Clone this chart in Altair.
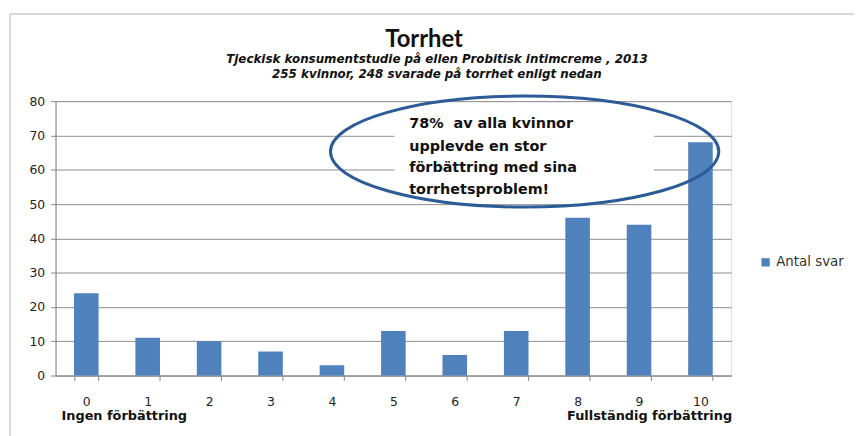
import altair as alt
import pandas as pd

categories = ["0", "1", "2", "3", "4", "5", "6", "7", "8", "9", "10"]
values = [24, 11, 10, 7, 3, 13, 6, 13, 46, 44, 68]
series_name = "Antal svar"

title_text = "Torrhet"
subtitle_lines = [
    "Tjeckisk konsumentstudie på ellen Probitisk intimcreme , 2013",
    "255 kvinnor, 248 svarade på torrhet enligt nedan",
]

note_lines = [
    "78%\u00a0 av alla kvinnor",
    "upplevde en stor",
    "förbättring med sina",
    "torrhetsproblem!",
]
note_y = [73.4, 66.6, 60.4, 54.0]

end_labels = ["Ingen förbättring", "Fullständig förbättring"]
end_cats = ["0", "10"]

FONT = "DejaVu Sans"
TFONT = "Lato"
BLUE = "#4f81bd"

bars_df = pd.DataFrame({"cat": categories, "val": values, "series": series_name})
note_df = pd.DataFrame({"cat": ["5"] * len(note_lines), "val": note_y, "txt": note_lines})
ell_df = pd.DataFrame({"cat": ["7"], "val": [65.3]})
end_df = pd.DataFrame({"cat": end_cats, "val": [-11.8, -11.8], "txt": end_labels})
one = pd.DataFrame({"k": [0]})

xscale = alt.Scale(domain=categories, paddingInner=0.6, paddingOuter=0.3)
yscale = alt.Scale(domain=[0, 80])

xaxis = alt.Axis(
    title=None, labelAngle=0, tickBand="extent", tickSize=5,
    labelPadding=15, labelFontSize=12.5, labelFont=FONT, labelColor="#222",
    domainColor="#868686", tickColor="#868686", grid=False,
)
yaxis = alt.Axis(
    title=None, values=[0, 10, 20, 30, 40, 50, 60, 70, 80],
    tickSize=5, labelPadding=6, labelOverlap=False,
    labelFontSize=12.5, labelFont=FONT, labelColor="#222",
    domainColor="#868686", tickColor="#868686",
    grid=True, gridColor="#8c8c8c", gridWidth=1,
)


def xe():
    return alt.X("cat:N", scale=xscale, sort=categories, axis=xaxis)


def ye():
    return alt.Y("val:Q", scale=yscale, axis=yaxis)


bars = alt.Chart(bars_df).mark_bar(color=BLUE).encode(
    x=xe(),
    y=ye(),
    color=alt.Color(
        "series:N",
        scale=alt.Scale(range=[BLUE]),
        legend=alt.Legend(
            title=None, orient="none", legendX=710, legendY=156,
            symbolType="square", symbolSize=70, symbolStrokeWidth=0,
            labelFont=FONT, labelFontSize=13.5, labelColor="#333",
        ),
    ),
)

white_box = alt.Chart(one).mark_rect(color="white").encode(
    x=alt.value(342), x2=alt.value(604), y=alt.value(6), y2=alt.value(96)
)

b = 56 / 196
k = 0.5523
ell_path = (
    f"M -1 0 C -1 {-k*b:.4f} {-k:.4f} {-b:.4f} 0 {-b:.4f} "
    f"C {k:.4f} {-b:.4f} 1 {-k*b:.4f} 1 0 "
    f"C 1 {k*b:.4f} {k:.4f} {b:.4f} 0 {b:.4f} "
    f"C {-k:.4f} {b:.4f} -1 {k*b:.4f} -1 0 Z"
)
ellipse = alt.Chart(ell_df).mark_point(
    shape=ell_path, size=(2 * 196) ** 2, filled=False,
    stroke="#2b5c98", strokeWidth=3, opacity=1, xOffset=8.5,
).encode(x=xe(), y=ye())

note = alt.Chart(note_df).mark_text(
    align="left", baseline="middle", font=FONT, fontSize=14.5,
    fontWeight="bold", color="#111", xOffset=16,
).encode(x=xe(), y=ye(), text="txt:N")

end_left = alt.Chart(end_df.head(1)).mark_text(
    align="left", baseline="middle", font=FONT, fontSize=13,
    fontWeight="bold", color="#111", xOffset=-25,
).encode(x=xe(), y=ye(), text="txt:N")
end_right = alt.Chart(end_df.tail(1)).mark_text(
    align="right", baseline="middle", font=FONT, fontSize=13,
    fontWeight="bold", color="#111", xOffset=32,
).encode(x=xe(), y=ye(), text="txt:N")

title_mark = alt.Chart(one).mark_text(
    align="center", baseline="alphabetic", font=TFONT, fontSize=24,
    fontWeight="bold", color="#111", text=title_text,
).encode(x=alt.value(372), y=alt.value(-55))
sub1 = alt.Chart(one).mark_text(
    align="center", baseline="alphabetic", font=FONT, fontSize=12,
    fontStyle="italic", fontWeight="bold", color="#111", text=subtitle_lines[0],
).encode(x=alt.value(385), y=alt.value(-38))
sub2 = alt.Chart(one).mark_text(
    align="center", baseline="alphabetic", font=FONT, fontSize=12,
    fontStyle="italic", fontWeight="bold", color="#111", text=subtitle_lines[1],
).encode(x=alt.value(385), y=alt.value(-23))

frame_top = alt.Chart(one).mark_rule(color="#d9d9d9", strokeWidth=2).encode(
    x=alt.value(-46), x2=alt.value(810), y=alt.value(-88)
)
frame_left = alt.Chart(one).mark_rule(color="#d9d9d9", strokeWidth=2).encode(
    x=alt.value(-46), y=alt.value(-88), y2=alt.value(340)
)

chart = alt.layer(
    frame_top, frame_left, bars, white_box, ellipse, note, end_left, end_right,
    title_mark, sub1, sub2,
).properties(
    width=682,
    height=277,
    autosize=alt.AutoSizeParams(type="none"),
    padding={"left": 48, "top": 92, "right": 124, "bottom": 59},
).configure_view(stroke=None).configure(background="white")

chart.save("out.html", embed_options={"renderer": "svg", "actions": False})
